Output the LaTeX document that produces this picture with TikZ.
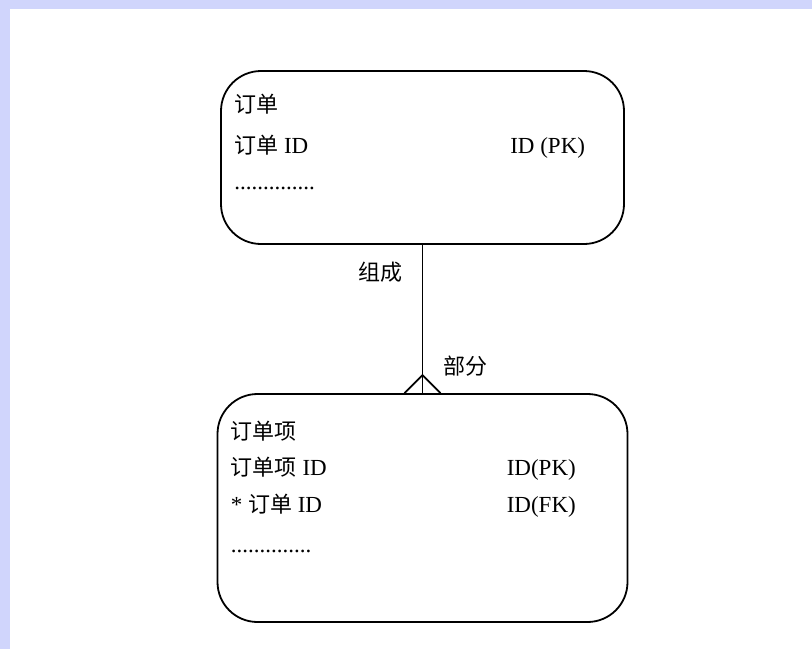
\documentclass[tikz,border=0pt]{standalone}
\usepackage{fontspec}
\setmainfont{Liberation Serif}
\newfontfamily\cjk{Noto Sans CJK SC}
\usetikzlibrary{positioning}
\definecolor{bandcol}{HTML}{D0D5FC}

\begin{document}
\begin{tikzpicture}[x=1pt,y=1pt,node distance=350.5pt,on grid,
		entity/.style={draw,line width=1.8pt,rounded corners=40pt,inner sep=0pt},
		field/.style={anchor=base west,inner sep=0pt,font=\fontsize{23}{26}\selectfont},
		role/.style={inner sep=0pt,font=\fontsize{22}{26}\selectfont\cjk}]
		\fill[bandcol] (0,0) rectangle (812,-649);
		\fill[white] (10,-9) rectangle (812,-649);
		\useasboundingbox (0,0) rectangle (812,-649);
		
		\node[entity,minimum width=403pt,minimum height=173pt] (order) at (422.5,-157.5) {};
		\node[entity,minimum width=410pt,minimum height=228pt] (item) [below=of order] {};
		
		% order
		\node[field] (o_name) at ([shift={(14,-42)}]order.north west) {\cjk\fontsize{22}{26}\selectfont 订单};
		\node[field] (o_id)   at ([shift={(14,-83)}]order.north west) {{\cjk\fontsize{22}{26}\selectfont 订单} ID};
		\node[field] (o_pk)   at ([shift={(290,-83)}]order.north west) {ID (PK)};
		\node[field] (o_more) at ([shift={(14,-119)}]order.north west) {..............};
		
		% item
		\node[field] (i_name) at ([shift={(14,-46)}]item.north west) {\cjk\fontsize{22}{26}\selectfont 订单项};
		\node[field] (i_id)   at ([shift={(14,-82)}]item.north west) {{\cjk\fontsize{22}{26}\selectfont 订单项} ID};
		\node[field] (i_pk)   at ([shift={(290,-82)}]item.north west) {ID(PK)};
		\node[field] (i_fk)   at ([shift={(14,-119)}]item.north west) {* {\cjk\fontsize{22}{26}\selectfont 订单} ID};
		\node[field] (i_fkt)  at ([shift={(290,-119)}]item.north west) {ID(FK)};
		\node[field] (i_more) at ([shift={(14,-159)}]item.north west) {..............};
		
		% relationship
		\coordinate (fork) at ([yshift=18pt]item.north);
		\draw[line width=1.8pt] (order.south) -- (item.north);
		\draw[line width=1.8pt] ([xshift=-18pt]item.north) -- (fork) -- ([xshift=18pt]item.north);
		\node[role] (r_whole) at ([shift={(-42,-27)}]order.south) {组成};
		\node[role] (r_part)  at ([shift={(43,27)}]item.north) {部分};
	\end{tikzpicture}
\end{document}
